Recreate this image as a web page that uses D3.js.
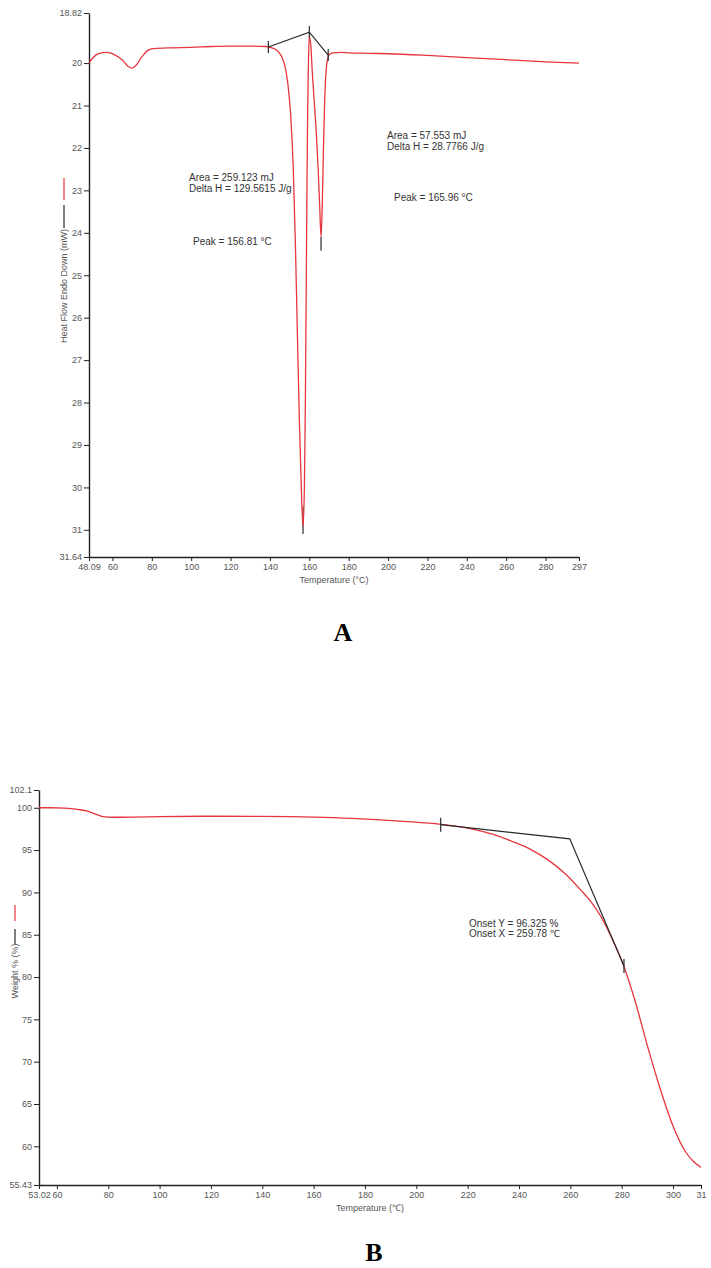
<!DOCTYPE html>
<html>
<head>
<meta charset="utf-8">
<script src="https://cdn.jsdelivr.net/npm/d3@7"></script>
<style>
  html, body { margin: 0; padding: 0; background: #fff; }
  svg { display: block; }
  text { font-family: "Liberation Sans", Arial, sans-serif; }
</style>
</head>
<body>
<svg id="chart" width="711" height="1268"></svg>
<script>
// ---------- Chart A (DSC) data ----------
const dscTemp = [48.09, 50, 53, 57, 61, 65, 68, 70, 72, 75, 78, 81, 90, 100, 110, 120, 130, 138, 141, 144, 146, 147.5, 149, 150.5, 151.8, 152.9, 154, 155, 156, 156.81, 157.5, 158, 158.4, 158.8, 159.2, 159.6, 160.0, 160.8, 161.5, 162.5, 163.5, 164.5, 165.3, 165.96, 166.6, 167.2, 167.8, 168.5, 169.3, 170.2, 172, 176, 180, 190, 200, 220, 240, 260, 280, 297];
const dscHeatFlow = [20.0, 19.88, 19.78, 19.75, 19.8, 19.93, 20.08, 20.12, 20.05, 19.85, 19.7, 19.66, 19.64, 19.63, 19.61, 19.6, 19.6, 19.61, 19.64, 19.72, 19.85, 20.05, 20.45, 21.2, 22.4, 24.2, 26.5, 28.5, 30.1, 30.92, 30.0, 28.0, 25.5, 23.0, 21.0, 19.9, 19.38, 19.6, 20.2, 20.9, 21.6, 22.5, 23.4, 24.1, 23.3, 22.0, 20.9, 20.2, 19.9, 19.8, 19.76, 19.75, 19.76, 19.77, 19.78, 19.82, 19.87, 19.92, 19.97, 20.0];
const dscBaseTemp = [139.2, 160.0, 169.6];
const dscBaseFlow = [19.62, 19.27, 19.81];
const dscPeakTemp = [156.81, 165.96];
const dscPeakFrom = [30.45, 24.1];
const dscPeakTo = [31.1, 24.42];
const dscXTicks = [48.09, 60, 80, 100, 120, 140, 160, 180, 200, 220, 240, 260, 280, 297];
const dscXTickLabels = ["48.09", "60", "80", "100", "120", "140", "160", "180", "200", "220", "240", "260", "280", "297"];
const dscYTicks = [18.82, 20, 21, 22, 23, 24, 25, 26, 27, 28, 29, 30, 31, 31.64];
const dscYTickLabels = ["18.82", "20", "21", "22", "23", "24", "25", "26", "27", "28", "29", "30", "31", "31.64"];

// ---------- Chart B (TGA) data ----------
const tgaTemp = [53.02, 58, 63, 68, 72, 75, 78, 82, 90, 100, 120, 140, 160, 175, 186, 195, 209.5, 220, 230, 238, 245, 251, 258, 264, 268, 272, 276, 280.7, 285, 290, 295, 300, 305, 308, 310.9];
const tgaWeight = [100.0, 100.0, 99.95, 99.8, 99.6, 99.25, 98.95, 98.88, 98.9, 98.95, 99.0, 98.98, 98.9, 98.75, 98.58, 98.4, 98.05, 97.6, 96.85, 95.95, 95.0, 93.9, 92.2, 90.3, 88.9, 87.1, 84.7, 81.4, 77.4, 71.9, 66.8, 62.4, 59.3, 58.2, 57.5];
const tgaTanTemp = [209.5, 259.78, 280.9];
const tgaTanWeight = [98.0, 96.325, 81.3];
const tgaXTicks = [53.02, 60, 80, 100, 120, 140, 160, 180, 200, 220, 240, 260, 280, 300, 310.9];
const tgaXTickLabels = ["53.02", "60", "80", "100", "120", "140", "160", "180", "200", "220", "240", "260", "280", "300", "31"];
const tgaYTicks = [55.43, 60, 65, 70, 75, 80, 85, 90, 95, 100, 102.1];
const tgaYTickLabels = ["55.43", "60", "65", "70", "75", "80", "85", "90", "95", "100", "102.1"];

// ---------- drawing ----------
const svg = d3.select("#chart");
const RED = "#e6353d";
const BLACK = "#2a2a2a";
const TICKTXT = "#555";

function styleAxis(g) {
  g.select(".domain").attr("stroke", "#222").attr("stroke-width", 1.4);
  g.selectAll(".tick line").attr("stroke", "#222").attr("stroke-width", 1);
  g.selectAll(".tick text").attr("fill", TICKTXT).style("font-size", "9px")
    .style("font-family", "'Liberation Sans', Arial, sans-serif");
}

// ===== Chart A =====
const xA = d3.scaleLinear().domain([48.09, 297]).range([89, 579]);
const yA = d3.scaleLinear().domain([18.82, 31.64]).range([13, 557]);
const gA = svg.append("g");

gA.append("g").attr("transform", "translate(0,557)")
  .call(d3.axisBottom(xA).tickValues(dscXTicks).tickSize(4).tickSizeOuter(0).tickPadding(3)
    .tickFormat((d, i) => dscXTickLabels[i]))
  .call(styleAxis);
gA.append("g").attr("transform", "translate(89,0)")
  .call(d3.axisLeft(yA).tickValues(dscYTicks).tickSize(5).tickSizeOuter(0).tickPadding(2)
    .tickFormat((d, i) => dscYTickLabels[i]))
  .call(styleAxis);

// peak markers (under red)
dscPeakTemp.forEach((t, i) => {
  gA.append("line").attr("x1", xA(t)).attr("x2", xA(t))
    .attr("y1", yA(dscPeakFrom[i])).attr("y2", yA(dscPeakTo[i]))
    .attr("stroke", BLACK).attr("stroke-width", 1.2);
});

const lineA = d3.line().x((d, i) => xA(dscTemp[i])).y(d => yA(d)).curve(d3.curveMonotoneX);
gA.append("path").datum(dscHeatFlow).attr("d", lineA)
  .attr("fill", "none").attr("stroke", RED).attr("stroke-width", 1.3);

const baseA = d3.line().x((d, i) => xA(dscBaseTemp[i])).y(d => yA(d));
gA.append("path").datum(dscBaseFlow).attr("d", baseA)
  .attr("fill", "none").attr("stroke", BLACK).attr("stroke-width", 1.2);
dscBaseTemp.forEach((t, i) => {
  gA.append("line").attr("x1", xA(t)).attr("x2", xA(t))
    .attr("y1", yA(dscBaseFlow[i]) - 6).attr("y2", yA(dscBaseFlow[i]) + 6)
    .attr("stroke", BLACK).attr("stroke-width", 1.2);
});

// annotations A
const annA = [
  { x: 189, y: 181, t: "Area = 259.123 mJ" },
  { x: 189, y: 191.5, t: "Delta H = 129.5615 J/g" },
  { x: 193, y: 245, t: "Peak = 156.81 °C" },
  { x: 387, y: 139, t: "Area = 57.553 mJ" },
  { x: 387, y: 149.5, t: "Delta H = 28.7766 J/g" },
  { x: 394, y: 201, t: "Peak = 165.96 °C" }
];
annA.forEach(a => gA.append("text").attr("x", a.x).attr("y", a.y).text(a.t)
  .attr("fill", "#333").style("font-size", "10px"));

gA.append("text").attr("x", 334).attr("y", 583).attr("text-anchor", "middle")
  .attr("fill", TICKTXT).style("font-size", "9px").text("Temperature (°C)");
gA.append("text").attr("transform", "translate(67,286) rotate(-90)").attr("text-anchor", "middle")
  .attr("fill", TICKTXT).style("font-size", "9px").text("Heat Flow Endo Down (mW)");
gA.append("line").attr("x1", 64).attr("x2", 64).attr("y1", 178).attr("y2", 200)
  .attr("stroke", RED).attr("stroke-width", 1.2);
gA.append("line").attr("x1", 64).attr("x2", 64).attr("y1", 205).attr("y2", 228)
  .attr("stroke", BLACK).attr("stroke-width", 1.2);

svg.append("text").attr("x", 343).attr("y", 641).attr("text-anchor", "middle")
  .style("font-family", "'Liberation Serif', 'Times New Roman', serif")
  .style("font-weight", "bold").style("font-size", "26px").attr("fill", "#000").text("A");

// ===== Chart B =====
const xB = d3.scaleLinear().domain([53.02, 310.9]).range([39, 701]);
const yB = d3.scaleLinear().domain([55.43, 102.1]).range([1185, 790]);
const gB = svg.append("g");

gB.append("g").attr("transform", "translate(0,1185)")
  .call(d3.axisBottom(xB).tickValues(tgaXTicks).tickSize(4).tickSizeOuter(0).tickPadding(3)
    .tickFormat((d, i) => tgaXTickLabels[i]))
  .call(styleAxis);
gB.append("g").attr("transform", "translate(39,0)")
  .call(d3.axisLeft(yB).tickValues(tgaYTicks).tickSize(5).tickSizeOuter(0).tickPadding(2)
    .tickFormat((d, i) => tgaYTickLabels[i]))
  .call(styleAxis);

const lineB = d3.line().x((d, i) => xB(tgaTemp[i])).y(d => yB(d)).curve(d3.curveMonotoneX);
gB.append("path").datum(tgaWeight).attr("d", lineB)
  .attr("fill", "none").attr("stroke", RED).attr("stroke-width", 1.3);

const tanB = d3.line().x((d, i) => xB(tgaTanTemp[i])).y(d => yB(d));
gB.append("path").datum(tgaTanWeight).attr("d", tanB)
  .attr("fill", "none").attr("stroke", BLACK).attr("stroke-width", 1.2);
[0, 2].forEach(i => {
  gB.append("line").attr("x1", xB(tgaTanTemp[i])).attr("x2", xB(tgaTanTemp[i]))
    .attr("y1", yB(tgaTanWeight[i]) - 7).attr("y2", yB(tgaTanWeight[i]) + 7)
    .attr("stroke", BLACK).attr("stroke-width", 1.2);
});

gB.append("text").attr("x", 469).attr("y", 927).attr("fill", "#333").style("font-size", "10px")
  .text("Onset Y = 96.325 %");
gB.append("text").attr("x", 469).attr("y", 936.5).attr("fill", "#333").style("font-size", "10px")
  .text("Onset X = 259.78 ℃");

gB.append("text").attr("x", 370).attr("y", 1211).attr("text-anchor", "middle")
  .attr("fill", TICKTXT).style("font-size", "9px").text("Temperature (℃)");
gB.append("text").attr("transform", "translate(18,971) rotate(-90)").attr("text-anchor", "middle")
  .attr("fill", TICKTXT).style("font-size", "9px").text("Weight % (%)");
gB.append("line").attr("x1", 15).attr("x2", 15).attr("y1", 905).attr("y2", 921)
  .attr("stroke", RED).attr("stroke-width", 1.2);
gB.append("line").attr("x1", 15).attr("x2", 15).attr("y1", 929).attr("y2", 944)
  .attr("stroke", BLACK).attr("stroke-width", 1.2);

svg.append("text").attr("x", 374).attr("y", 1261).attr("text-anchor", "middle")
  .style("font-family", "'Liberation Serif', 'Times New Roman', serif")
  .style("font-weight", "bold").style("font-size", "26px").attr("fill", "#000").text("B");
</script>
</body>
</html>
